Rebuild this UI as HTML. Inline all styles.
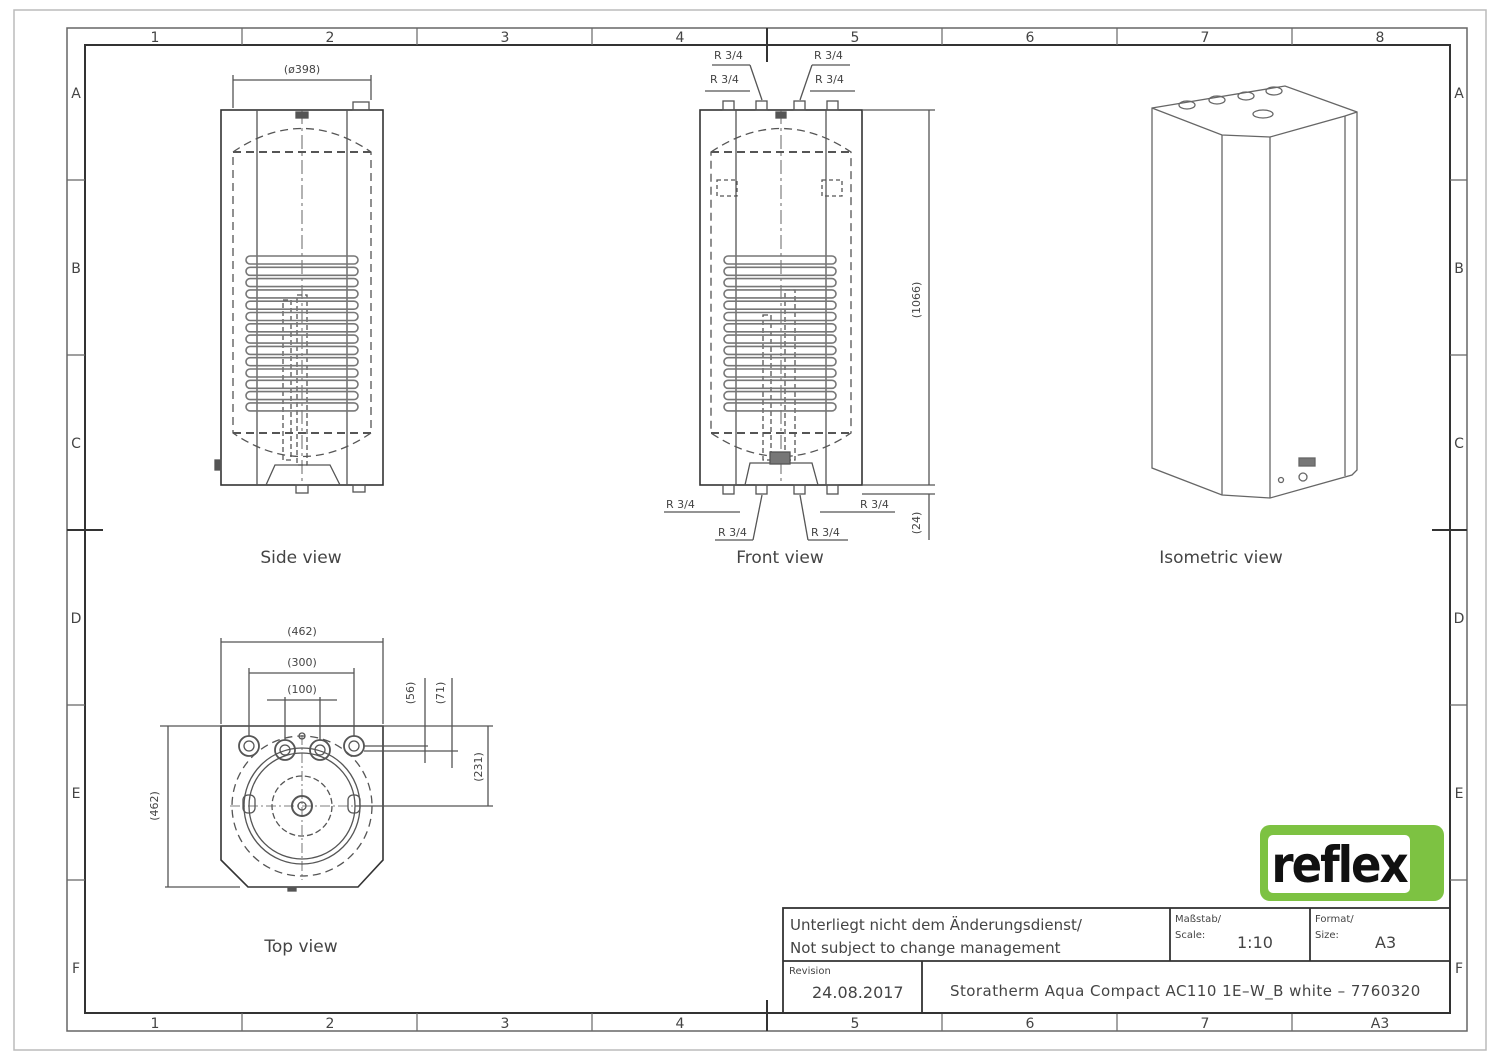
<!DOCTYPE html>
<html><head><meta charset="utf-8"><style>
body{margin:0;background:#fff}
svg{display:block}
text{font-family:"DejaVu Sans","Liberation Sans",sans-serif;fill:#444}
</style></head><body>
<svg width="1500" height="1059" viewBox="0 0 1500 1059" xmlns="http://www.w3.org/2000/svg">
<defs>
<g id="coilS"><rect x="0" y="0" width="112" height="8" rx="4" fill="none" stroke="#777" stroke-width="1.6"/></g>
</defs>
<rect x="14" y="10" width="1472" height="1040" fill="none" stroke="#bbb" stroke-width="1.5"/>
<rect x="67" y="28" width="1400" height="1003" fill="none" stroke="#666" stroke-width="1.5"/>
<rect x="85" y="45" width="1365" height="968" fill="none" stroke="#333" stroke-width="2"/>
<g stroke="#666" stroke-width="1.2">
<line x1="242" y1="28" x2="242" y2="45"/><line x1="417" y1="28" x2="417" y2="45"/><line x1="592" y1="28" x2="592" y2="45"/><line x1="942" y1="28" x2="942" y2="45"/><line x1="1117" y1="28" x2="1117" y2="45"/><line x1="1292" y1="28" x2="1292" y2="45"/>
<line x1="242" y1="1013" x2="242" y2="1031"/><line x1="417" y1="1013" x2="417" y2="1031"/><line x1="592" y1="1013" x2="592" y2="1031"/><line x1="942" y1="1013" x2="942" y2="1031"/><line x1="1117" y1="1013" x2="1117" y2="1031"/><line x1="1292" y1="1013" x2="1292" y2="1031"/>
<line x1="67" y1="180" x2="85" y2="180"/><line x1="67" y1="355" x2="85" y2="355"/><line x1="67" y1="705" x2="85" y2="705"/><line x1="67" y1="880" x2="85" y2="880"/>
<line x1="1450" y1="180" x2="1467" y2="180"/><line x1="1450" y1="355" x2="1467" y2="355"/><line x1="1450" y1="705" x2="1467" y2="705"/><line x1="1450" y1="880" x2="1467" y2="880"/>
</g>
<g stroke="#333" stroke-width="2"><line x1="767" y1="28" x2="767" y2="62"/><line x1="767" y1="1000" x2="767" y2="1031"/><line x1="67" y1="530" x2="103" y2="530"/><line x1="1432" y1="530" x2="1467" y2="530"/></g>
<g font-size="14" text-anchor="middle">
<text x="155" y="42">1</text><text x="330" y="42">2</text><text x="505" y="42">3</text><text x="680" y="42">4</text><text x="855" y="42">5</text><text x="1030" y="42">6</text><text x="1205" y="42">7</text><text x="1380" y="42">8</text>
<text x="155" y="1028">1</text><text x="330" y="1028">2</text><text x="505" y="1028">3</text><text x="680" y="1028">4</text><text x="855" y="1028">5</text><text x="1030" y="1028">6</text><text x="1205" y="1028">7</text><text x="1380" y="1028">A3</text>
<text x="76" y="98">A</text><text x="76" y="273">B</text><text x="76" y="448">C</text><text x="76" y="623">D</text><text x="76" y="798">E</text><text x="76" y="973">F</text>
<text x="1459" y="98">A</text><text x="1459" y="273">B</text><text x="1459" y="448">C</text><text x="1459" y="623">D</text><text x="1459" y="798">E</text><text x="1459" y="973">F</text>
</g>

<!-- Side view -->
<g fill="none" stroke="#555" stroke-width="1.3">
<rect x="221" y="110" width="162" height="375" stroke="#333" stroke-width="1.6"/>
<line x1="257" y1="110" x2="257" y2="485"/><line x1="347" y1="110" x2="347" y2="485"/>
<path d="M233 152 Q302 105 371 152 L371 433 Q302 480 233 433 Z" stroke-dasharray="8 5"/>
<line x1="233" y1="152" x2="371" y2="152" stroke-dasharray="8 5" stroke-width="2"/>
<line x1="233" y1="433" x2="371" y2="433" stroke-dasharray="8 5" stroke-width="2"/>
<line x1="302" y1="110" x2="302" y2="485" stroke-dasharray="14 4 3 4" stroke-width="0.9"/>
<rect x="297" y="295" width="10" height="170" stroke-dasharray="5 3"/>
<rect x="283" y="300" width="8" height="160" stroke-dasharray="5 3"/>
<rect x="353" y="102" width="16" height="8"/><rect x="296" y="112" width="12" height="6" fill="#555"/>
<rect x="296" y="485" width="12" height="8"/><rect x="353" y="485" width="12" height="7"/>
<path d="M266 485 L275 465 L330 465 L340 485"/>
<rect x="215" y="460" width="6" height="10" fill="#555"/>
<line x1="233" y1="75" x2="233" y2="108"/><line x1="371" y1="75" x2="371" y2="100"/>
<line x1="233" y1="80" x2="371" y2="80"/>
</g>
<g transform="translate(246,256)">
<use href="#coilS"/><use href="#coilS" y="11.3"/><use href="#coilS" y="22.6"/><use href="#coilS" y="33.9"/><use href="#coilS" y="45.2"/><use href="#coilS" y="56.5"/><use href="#coilS" y="67.8"/><use href="#coilS" y="79.1"/><use href="#coilS" y="90.4"/><use href="#coilS" y="101.7"/><use href="#coilS" y="113"/><use href="#coilS" y="124.3"/><use href="#coilS" y="135.6"/><use href="#coilS" y="146.9"/>
</g>
<text x="302" y="73" font-size="11" text-anchor="middle">(ø398)</text>
<text x="301" y="563" font-size="17" text-anchor="middle">Side  view</text>

<!-- Front view -->
<g fill="none" stroke="#555" stroke-width="1.3">
<rect x="700" y="110" width="162" height="375" stroke="#333" stroke-width="1.6"/>
<line x1="736" y1="110" x2="736" y2="485"/><line x1="826" y1="110" x2="826" y2="485"/>
<path d="M711 152 Q781 105 851 152 L851 433 Q781 480 711 433 Z" stroke-dasharray="8 5"/>
<line x1="711" y1="152" x2="851" y2="152" stroke-dasharray="8 5" stroke-width="2"/>
<line x1="711" y1="433" x2="851" y2="433" stroke-dasharray="8 5" stroke-width="2"/>
<line x1="781" y1="110" x2="781" y2="485" stroke-dasharray="14 4 3 4" stroke-width="0.9"/>
<rect x="717" y="180" width="20" height="16" stroke-dasharray="4 3"/><rect x="822" y="180" width="20" height="16" stroke-dasharray="4 3"/>
<rect x="785" y="290" width="10" height="170" stroke-dasharray="5 3"/>
<rect x="763" y="315" width="8" height="145" stroke-dasharray="5 3"/>
<rect x="723" y="101" width="11" height="9"/><rect x="756" y="101" width="11" height="9"/><rect x="794" y="101" width="11" height="9"/><rect x="827" y="101" width="11" height="9"/>
<rect x="776" y="112" width="10" height="6" fill="#555"/>
<rect x="723" y="485" width="11" height="9"/><rect x="756" y="485" width="11" height="9"/><rect x="794" y="485" width="11" height="9"/><rect x="827" y="485" width="11" height="9"/>
<path d="M745 485 L750 463 L812 463 L818 485"/>
<rect x="770" y="452" width="20" height="12" fill="#777"/>
<line x1="712" y1="65" x2="750" y2="65"/><line x1="750" y1="65" x2="762" y2="100"/>
<line x1="812" y1="65" x2="850" y2="65"/><line x1="812" y1="65" x2="800" y2="100"/>
<line x1="705" y1="91" x2="750" y2="91"/><line x1="810" y1="91" x2="855" y2="91"/>
<line x1="664" y1="512" x2="740" y2="512"/><line x1="820" y1="512" x2="895" y2="512"/>
<line x1="715" y1="540" x2="753" y2="540"/><line x1="753" y1="540" x2="762" y2="495"/>
<line x1="808" y1="540" x2="848" y2="540"/><line x1="808" y1="540" x2="800" y2="495"/>
<line x1="862" y1="110" x2="935" y2="110"/><line x1="862" y1="485" x2="935" y2="485"/><line x1="862" y1="494" x2="935" y2="494"/>
<line x1="929" y1="110" x2="929" y2="485"/><line x1="929" y1="494" x2="929" y2="540"/>
</g>
<g transform="translate(724,256)">
<use href="#coilS"/><use href="#coilS" y="11.3"/><use href="#coilS" y="22.6"/><use href="#coilS" y="33.9"/><use href="#coilS" y="45.2"/><use href="#coilS" y="56.5"/><use href="#coilS" y="67.8"/><use href="#coilS" y="79.1"/><use href="#coilS" y="90.4"/><use href="#coilS" y="101.7"/><use href="#coilS" y="113"/><use href="#coilS" y="124.3"/><use href="#coilS" y="135.6"/><use href="#coilS" y="146.9"/>
</g>
<g font-size="11">
<text x="714" y="59">R 3/4</text><text x="814" y="59">R 3/4</text>
<text x="710" y="83">R 3/4</text><text x="815" y="83">R 3/4</text>
<text x="666" y="508">R 3/4</text><text x="860" y="508">R 3/4</text>
<text x="718" y="536">R 3/4</text><text x="811" y="536">R 3/4</text>
<text transform="translate(920,300) rotate(-90)" text-anchor="middle">(1066)</text>
<text transform="translate(920,523) rotate(-90)" text-anchor="middle">(24)</text>
</g>
<text x="780" y="563" font-size="17" text-anchor="middle">Front  view</text>

<!-- Isometric -->
<g fill="none" stroke="#666" stroke-width="1.3">
<path d="M1152 108 L1285 86 L1357 112 L1357 470 L1352 475 L1270 498 L1222 495 L1152 468 Z"/>
<path d="M1152 108 L1222 135 L1270 137 L1345 116 L1357 112"/>
<line x1="1222" y1="135" x2="1222" y2="495"/><line x1="1270" y1="137" x2="1270" y2="498"/><line x1="1345" y1="116" x2="1345" y2="476"/>
<ellipse cx="1187" cy="105" rx="8" ry="4"/><ellipse cx="1217" cy="100" rx="8" ry="4"/><ellipse cx="1246" cy="96" rx="8" ry="4"/><ellipse cx="1274" cy="91" rx="8" ry="4"/>
<ellipse cx="1263" cy="114" rx="10" ry="4"/>
<rect x="1299" y="458" width="16" height="8" fill="#777"/>
<circle cx="1303" cy="477" r="4"/><circle cx="1281" cy="480" r="2.5"/>
</g>
<text x="1221" y="563" font-size="17" text-anchor="middle">Isometric  view</text>

<!-- Top view -->
<g fill="none" stroke="#555" stroke-width="1.3">
<path d="M221 726 L383 726 L383 860 L358 887 L248 887 L221 860 Z" stroke="#333" stroke-width="1.6"/>
<circle cx="302" cy="806" r="70" stroke-dasharray="8 5"/>
<circle cx="302" cy="806" r="58"/><circle cx="302" cy="806" r="53"/>
<circle cx="302" cy="806" r="30" stroke-dasharray="6 3"/>
<circle cx="302" cy="806" r="10" stroke-width="2"/><circle cx="302" cy="806" r="4"/>
<circle cx="249" cy="746" r="10" stroke-width="1.8"/><circle cx="249" cy="746" r="5"/>
<circle cx="285" cy="750" r="10" stroke-width="1.8"/><circle cx="285" cy="750" r="5"/>
<circle cx="320" cy="750" r="10" stroke-width="1.8"/><circle cx="320" cy="750" r="5"/>
<circle cx="354" cy="746" r="10" stroke-width="1.8"/><circle cx="354" cy="746" r="5"/>
<circle cx="302" cy="736" r="3"/>
<rect x="243" y="795" width="12" height="18" rx="5"/><rect x="348" y="795" width="12" height="18" rx="5"/>
<line x1="230" y1="806" x2="375" y2="806" stroke-dasharray="10 3 2 3" stroke-width="0.8"/>
<line x1="302" y1="735" x2="302" y2="880" stroke-dasharray="10 3 2 3" stroke-width="0.8"/>
<line x1="221" y1="638" x2="221" y2="724"/><line x1="383" y1="638" x2="383" y2="724"/><line x1="221" y1="642" x2="383" y2="642"/>
<line x1="249" y1="668" x2="249" y2="736"/><line x1="354" y1="668" x2="354" y2="736"/><line x1="249" y1="673" x2="354" y2="673"/>
<line x1="285" y1="697" x2="285" y2="740"/><line x1="320" y1="697" x2="320" y2="740"/><line x1="267" y1="700" x2="337" y2="700"/>
<line x1="160" y1="726" x2="493" y2="726"/><line x1="165" y1="887" x2="240" y2="887"/><line x1="168" y1="726" x2="168" y2="887"/>
<line x1="364" y1="746" x2="428" y2="746"/><line x1="364" y1="751" x2="458" y2="751"/><line x1="355" y1="806" x2="493" y2="806"/>
<line x1="425" y1="678" x2="425" y2="763"/><line x1="452" y1="678" x2="452" y2="768"/><line x1="488" y1="726" x2="488" y2="806"/>
<rect x="288" y="887" width="8" height="4" fill="#555"/>
</g>
<g font-size="11">
<text x="302" y="635" text-anchor="middle">(462)</text><text x="302" y="666" text-anchor="middle">(300)</text><text x="302" y="693" text-anchor="middle">(100)</text>
<text transform="translate(414,693) rotate(-90)" text-anchor="middle">(56)</text>
<text transform="translate(444,693) rotate(-90)" text-anchor="middle">(71)</text>
<text transform="translate(482,767) rotate(-90)" text-anchor="middle">(231)</text>
<text transform="translate(158,806) rotate(-90)" text-anchor="middle">(462)</text>
</g>
<text x="301" y="952" font-size="17" text-anchor="middle">Top  view</text>

<!-- Logo -->
<rect x="1260" y="825" width="184" height="76" rx="10" fill="#7dc242"/>
<rect x="1268" y="835" width="142" height="58" rx="5" fill="#fff"/>
<text x="1339" y="882" font-size="50" font-weight="bold" text-anchor="middle" style="fill:#111;font-family:'DejaVu Sans Condensed','Liberation Sans Narrow',sans-serif;letter-spacing:-2px">reflex</text>

<!-- Title block -->
<g fill="none" stroke="#333" stroke-width="1.8">
<rect x="783" y="908" width="667" height="105"/>
<line x1="783" y1="961" x2="1450" y2="961"/>
<line x1="1170" y1="908" x2="1170" y2="961"/><line x1="1310" y1="908" x2="1310" y2="961"/>
<line x1="922" y1="961" x2="922" y2="1013"/>
</g>
<g>
<text x="790" y="930" font-size="15">Unterliegt  nicht  dem  Änderungsdienst/</text>
<text x="790" y="953" font-size="15">Not  subject  to  change  management</text>
<text x="1175" y="922" font-size="10">Maßstab/</text><text x="1175" y="938" font-size="10">Scale:</text>
<text x="1237" y="948" font-size="16">1:10</text>
<text x="1315" y="922" font-size="10">Format/</text><text x="1315" y="938" font-size="10">Size:</text>
<text x="1375" y="948" font-size="16">A3</text>
<text x="789" y="974" font-size="10">Revision</text>
<text x="812" y="998" font-size="16">24.08.2017</text>
<text x="950" y="996" font-size="15" style="letter-spacing:0.45px">Storatherm  Aqua  Compact  AC110  1E–W_B  white  –  7760320</text>
</g>
</svg>
</body></html>
